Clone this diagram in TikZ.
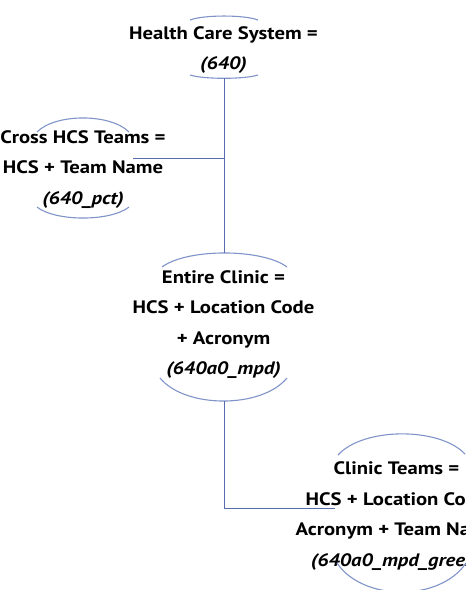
\documentclass[tikz,border=0pt]{standalone}
\usepackage{fontspec}
\setmainfont{PT Sans}[FakeStretch=1.15]
\definecolor{arccol}{RGB}{128,148,202}
\definecolor{linkcol}{RGB}{88,108,176}
\tikzset{
  arcline/.style={draw=arccol, line width=1.1pt},
  link/.style={draw=linkcol, line width=1pt},
  label/.style={align=center, inner sep=0pt, text=black,
    font=\fontsize{18}{30.5}\selectfont\bfseries},
}
\newcommand{\codetxt}[1]{{\itshape #1}}
\begin{document}
\begin{tikzpicture}[x=1pt, y=-1pt]
\useasboundingbox (0,0) rectangle (466,590);
\clip (0,0) rectangle (466,590);
\fill[white] (0,0) rectangle (466,590);

% text blocks
\node[label] (hcs) at (223.5,50) {Health Care System =\\ \codetxt{(640)}};
\node[label] (cross) at (83,169.5) {Cross HCS Teams =\\ HCS + Team Name\\ \codetxt{(640\_pct)}};
\node[label] (clinic) at (223.5,324.5) {Entire Clinic =\\ HCS + Location Code\\ + Acronym\\ \codetxt{(640a0\_mpd)}};
\node[label] (cteams) at (396.5,516) {Clinic Teams =\\ HCS + Location Code\\ Acronym + Team Name\\ \codetxt{(640a0\_mpd\_green)}};

% ellipse arcs
\draw[arcline] (190,20) .. controls (203.6,14.7) and (244.4,14.7) .. (258,20);
\draw[arcline] (190,75) .. controls (203.6,79.4) and (244.4,79.4) .. (258,75);
\draw[arcline] (37,132) .. controls (55.4,113.3) and (110.6,113.3) .. (129,132);
\draw[arcline] (37,207) .. controls (55.4,221.7) and (110.6,221.7) .. (129,207);
\draw[arcline] (162,267) .. controls (187,248.3) and (262,248.3) .. (287,267);
\draw[arcline] (160,378) .. controls (185.4,408.7) and (261.6,408.7) .. (287,378);
\draw[arcline] (338,455) .. controls (363.4,427) and (439.6,427) .. (465,454);
\draw[arcline] (337,563) .. controls (362.8,601.7) and (440.2,601.7) .. (466,563);

% connector end points on the ellipses
\coordinate (hcsB) at (224,78.3);
\coordinate (crossR) at (133,158);
\coordinate (clinicT) at (224,253);
\coordinate (clinicB) at (224,401);
\coordinate (cteamsL) at (335,508);

% connectors
\draw[link] (hcsB) -- (clinicT);
\draw[link] (crossR) -- (crossR -| hcsB);
\draw[link] (clinicB) |- (cteamsL);
\end{tikzpicture}
\end{document}
